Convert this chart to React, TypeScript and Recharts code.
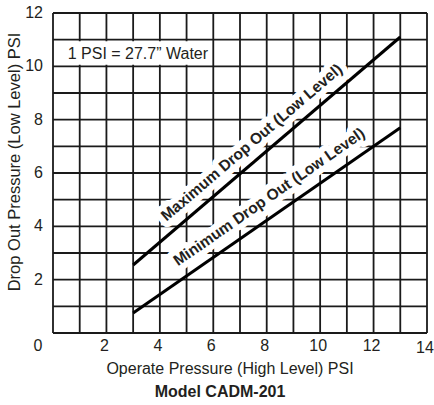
import React from 'react'
import {
  LineChart,
  Line,
  XAxis,
  YAxis,
  CartesianGrid,
  ReferenceArea,
  ReferenceDot,
  Label,
} from 'recharts'

// operate pressure (high level), psi
const operatePsi = [3, 13]
// drop out pressure (low level), psi
const maxDropOut = [2.55, 11.1]
const minDropOut = [0.75, 7.7]

const xTicks = [0, 1, 2, 3, 4, 5, 6, 7, 8, 9, 10, 11, 12, 13, 14]
const yTicks = [0, 1, 2, 3, 4, 5, 6, 7, 8, 9, 10, 11, 12]

const data = operatePsi.map((p, i) => ({
  p,
  max: maxDropOut[i],
  min: minDropOut[i],
}))

const FONT = '"Liberation Sans", Arial, Helvetica, sans-serif'
const INK = '#231f20'

const XTick = (props: any) => {
  const { x, y, payload } = props
  const v = payload.value
  if (v % 2 !== 0) return <g />
  const dx = v === 0 ? -15 : -2
  const dy = v === 14 ? 20 : 18
  return (
    <text x={x + dx} y={y + dy} textAnchor='middle' fill={INK} fontSize={16} fontFamily={FONT}>
      {v}
    </text>
  )
}

const YTick = (props: any) => {
  const { x, y, payload } = props
  const v = payload.value
  if (v % 2 !== 0 || v === 0) return <g />
  return (
    <text x={x - 10} y={y + 5} textAnchor='end' fill={INK} fontSize={16} fontFamily={FONT}>
      {v}
    </text>
  )
}

const lineLabel = (text: string, angle: number) => (props: any) => {
  const { cx, cy } = props
  return (
    <text
      x={cx}
      y={cy}
      textAnchor='middle'
      transform={`rotate(${-angle}, ${cx}, ${cy})`}
      fontSize={15.5}
      fontWeight='bold'
      fontFamily={FONT}
      fill={INK}
      stroke='#fff'
      strokeWidth={12}
      strokeLinejoin='round'
      paintOrder='stroke'>
      {text}
    </text>
  )
}

const XTitle = (props: any) => {
  const vb = props.viewBox
  const cx = vb.x + vb.width / 2
  return (
    <g fontFamily={FONT} fill={INK}>
      <text x={cx - 10} y={374} textAnchor='middle' fontSize={16}>
        Operate Pressure (High Level) PSI
      </text>
      <text x={cx - 20} y={397} textAnchor='middle' fontSize={16} fontWeight='bold'>
        Model CADM-201
      </text>
    </g>
  )
}

const YTitle = () => {
  const cy = 162
  return (
    <text
      x={20}
      y={cy}
      transform={`rotate(-90, 20, ${cy})`}
      textAnchor='middle'
      fontSize={16.5}
      fontFamily={FONT}
      fill={INK}>
      Drop Out Pressure (Low Level) PSI
    </text>
  )
}

export default function App() {
  return (
    <div style={{ position: 'absolute', left: 0, top: 0, width: 434, height: 405, background: '#fff' }}>
      <LineChart
        width={434}
        height={405}
        data={data}
        margin={{ top: 13, right: 7, left: 23, bottom: 52 }}>
        <CartesianGrid stroke='#1a1a1a' strokeWidth={1.8} />
        <XAxis
          dataKey='p'
          type='number'
          domain={[0, 14]}
          ticks={xTicks}
          interval={0}
          axisLine={false}
          tickLine={false}
          tickSize={0}
          tickMargin={0}
          height={20}
          tick={<XTick />}>
          <Label content={<XTitle />} />
        </XAxis>
        <YAxis
          type='number'
          domain={[0, 12]}
          ticks={yTicks}
          interval={0}
          axisLine={false}
          tickLine={false}
          tickSize={0}
          tickMargin={0}
          width={30}
          tick={<YTick />}>
          <Label content={<YTitle />} />
        </YAxis>
        <ReferenceArea x1={0.06} x2={5.94} y1={10.06} y2={10.94} fill='#fff' fillOpacity={1} stroke='none' />
        <ReferenceDot
          x={0.55}
          y={10.28}
          r={0}
          shape={(p: any) => (
            <text x={p.cx} y={p.cy} fontSize={16} fontFamily={FONT} fill={INK}>
              1 PSI = 27.7” Water
            </text>
          )}
        />
        <ReferenceDot x={7.56} y={7.0} r={0} shape={lineLabel('Maximum Drop Out (Low Level)', 40.5)} />
        <ReferenceDot x={8.2} y={4.95} r={0} shape={lineLabel('Minimum Drop Out (Low Level)', 34.8)} />
        <Line dataKey='max' stroke='#000' strokeWidth={3} dot={false} isAnimationActive={false} />
        <Line dataKey='min' stroke='#000' strokeWidth={3} dot={false} isAnimationActive={false} />
      </LineChart>
    </div>
  )
}
